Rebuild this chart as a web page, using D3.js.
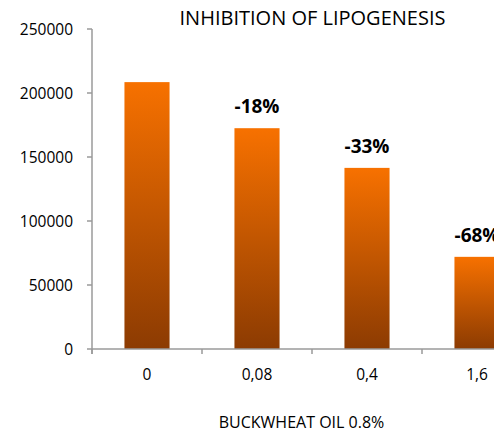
<!DOCTYPE html>
<html>
<head>
<meta charset="utf-8">
<script src="https://cdn.jsdelivr.net/npm/d3@7"></script>
<style>
  body { margin: 0; background: #fff; }
  text { font-family: "Open Sans", Lato, sans-serif; fill: #000; }
</style>
</head>
<body>
<div id="chart"></div>
<script>
// data
const doses = ["0", "0,08", "0,4", "1,6"];
const lipogenesis = [208500, 172500, 141500, 72000];
const changeLabels = ["", "-18%", "-33%", "-68%"];
const yTicks = [0, 50000, 100000, 150000, 200000, 250000];

const width = 494, height = 429;
// the plot runs past the right edge, as in the original
let margin = {top: 29, left: 92, bottom: 80};
let plotRight = margin.left + 110 * doses.length;

const svg = d3.select("#chart").append("svg")
    .attr("width", width)
    .attr("height", height);

const defs = svg.append("defs");
const grad = defs.append("linearGradient")
    .attr("id", "barGrad")
    .attr("x1", 0).attr("y1", 0).attr("x2", 0).attr("y2", 1);
grad.append("stop").attr("offset", "0%").attr("stop-color", "#f77100");
grad.append("stop").attr("offset", "100%").attr("stop-color", "#8c3b02");

const x = d3.scaleBand()
    .domain(doses)
    .range([margin.left, plotRight]);

const y = d3.scaleLinear()
    .domain([0, 250000])
    .range([height - margin.bottom, margin.top]);

const barW = x.bandwidth() * 0.41;

// bars
svg.append("g")
    .selectAll("rect")
    .data(doses)
    .enter()
    .append("rect")
    .attr("x", d => x(d) + (x.bandwidth() - barW) / 2)
    .attr("y", (d, i) => y(lipogenesis[i]))
    .attr("width", barW)
    .attr("height", (d, i) => y(0) - y(lipogenesis[i]))
    .attr("fill", "url(#barGrad)");

// y axis
const axisColor = "#9a9a9a";
svg.append("line")
    .attr("x1", margin.left).attr("x2", margin.left)
    .attr("y1", y(250000)).attr("y2", y(0) + 5)
    .attr("stroke", axisColor).attr("stroke-width", 1.5);

const yg = svg.append("g").selectAll("g")
    .data(yTicks)
    .enter()
    .append("g")
    .attr("transform", d => `translate(0, ${y(d)})`);
yg.append("line")
    .attr("x1", margin.left - 5).attr("x2", margin.left)
    .attr("stroke", axisColor).attr("stroke-width", 1.5);
yg.append("text")
    .attr("x", margin.left - 19)
    .attr("dy", "0.36em")
    .attr("text-anchor", "end")
    .style("font-size", "15.5px")
    .text(d => d);

// x axis
svg.append("line")
    .attr("x1", margin.left).attr("x2", plotRight)
    .attr("y1", y(0)).attr("y2", y(0))
    .attr("stroke", axisColor).attr("stroke-width", 1.5);

svg.append("g").selectAll("line")
    .data(doses)
    .enter()
    .append("line")
    .attr("x1", d => x(d)).attr("x2", d => x(d))
    .attr("y1", y(0)).attr("y2", y(0) + 5)
    .attr("stroke", axisColor).attr("stroke-width", 1.5);

svg.append("g").selectAll("text")
    .data(doses)
    .enter()
    .append("text")
    .attr("x", d => x(d) + x.bandwidth() / 2)
    .attr("y", y(0) + 31)
    .attr("text-anchor", "middle")
    .style("font-size", "15.5px")
    .text(d => d);

// change labels above bars
svg.append("g").selectAll("text")
    .data(doses.filter((d, i) => changeLabels[i]))
    .enter()
    .append("text")
    .attr("x", d => x(d) + x.bandwidth() / 2)
    .attr("y", d => y(lipogenesis[doses.indexOf(d)]) - 15)
    .attr("text-anchor", "middle")
    .style("font-size", "19px")
    .style("font-weight", "bold")
    .text(d => changeLabels[doses.indexOf(d)]);

// title and axis title
svg.append("text")
    .attr("x", 312.5)
    .attr("y", 25)
    .attr("text-anchor", "middle")
    .style("font-size", "20px")
    .text("INHIBITION OF LIPOGENESIS");

svg.append("text")
    .attr("x", 301.5)
    .attr("y", 427.5)
    .attr("text-anchor", "middle")
    .style("font-size", "16px")
    .text("BUCKWHEAT OIL 0.8%");
</script>
</body>
</html>
